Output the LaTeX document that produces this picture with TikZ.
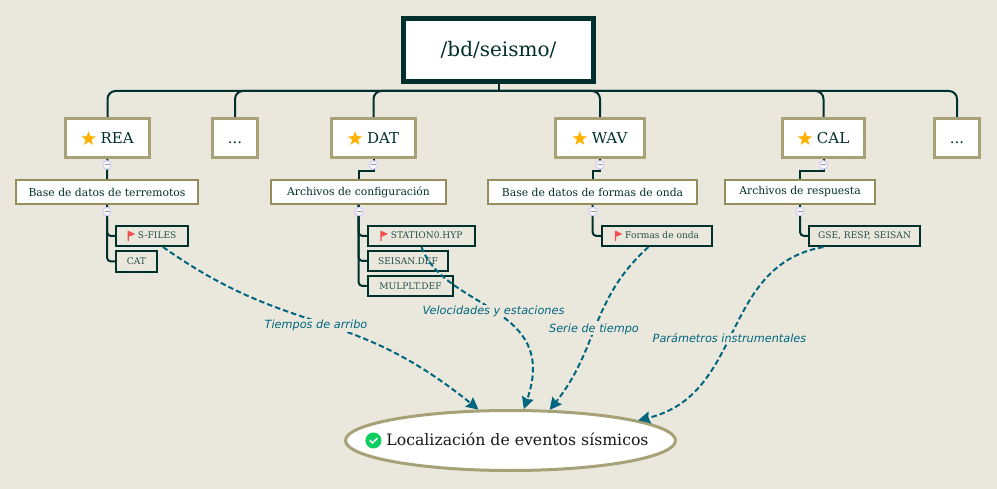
\documentclass[tikz,border=0pt]{standalone}
\usepackage{fontspec}
\setmainfont{DejaVu Serif}
\newfontfamily\flowfont{DejaVu Sans}
\usetikzlibrary{arrows.meta}
\definecolor{paper}{HTML}{EAE8DC}
\definecolor{deepgreen}{HTML}{00302E}
\definecolor{olive}{HTML}{A6A177}
\definecolor{darkolive}{HTML}{968D5C}
\definecolor{flowblue}{HTML}{006680}
\definecolor{starcolor}{HTML}{FFB300}
\definecolor{flagcolor}{HTML}{F2504F}
\definecolor{checkcolor}{HTML}{0ACF5F}
\newcommand{\staricon}{\tikz[x=1pt,y=1pt,baseline=-4.6pt]\fill[starcolor]
  (0,7.5) -- (1.9,2.5) -- (7.2,2.3) -- (3,-1) -- (4.4,-6.1) -- (0,-3.2)
  -- (-4.4,-6.1) -- (-3,-1) -- (-7.2,2.3) -- (-1.9,2.5) -- cycle;}
\newcommand{\flagicon}{\tikz[x=1pt,y=1pt,baseline=-3pt]\fill[flagcolor]
  (0,-5) rectangle (1.2,5) (1.2,5) -- (7.5,2) -- (1.2,-0.8) -- cycle;}
\newcommand{\checkicon}{\tikz[x=1pt,y=1pt,baseline=-5pt]{\fill[checkcolor] (0,0) circle (8pt);
  \draw[white,line width=1.5pt,line cap=round] (-3.4,0) -- (-1,-2.4) -- (3.6,2);}}
\tikzset{
  rootbox/.style={draw=deepgreen,fill=white,line width=5pt,text=deepgreen,inner sep=0pt,font=\fontsize{20}{24}\selectfont},
  folderbox/.style={draw=olive,fill=white,line width=3pt,text=deepgreen,inner sep=0pt,font=\fontsize{15}{18}\selectfont},
  basebox/.style={draw=darkolive,fill=white,line width=2pt,text=deepgreen,inner sep=0pt,font=\fontsize{10.8}{13}\selectfont},
  filebox/.style={draw=deepgreen,line width=2pt,text=deepgreen!85!white,inner sep=0pt,font=\fontsize{9.1}{11}\selectfont},
  resultbox/.style={ellipse,draw=olive,fill=white,line width=3pt,text=black!90,inner sep=0pt,font=\fontsize{15.7}{19}\selectfont},
  togglemark/.style={circle,draw=blue!20!white,fill=white!75!paper,line width=1pt,inner sep=0pt,minimum size=8.5pt,
    path picture={\draw[black!40,line width=1pt] (-2.5pt,0pt) -- (2.5pt,0pt);}},
  treeline/.style={draw=deepgreen,line width=2pt},
  flowline/.style={draw=flowblue,line width=2pt,dash pattern=on 5.5pt off 3pt,-{Stealth[length=12pt,width=12pt,inset=1.5pt]}},
  flowlabel/.style={fill=paper,inner sep=1pt,text=flowblue,font=\flowfont\itshape\fontsize{11.3}{13}\selectfont},
}
\usetikzlibrary{shapes.geometric}
\begin{document}
\begin{tikzpicture}[x=1pt,y=-1pt]
  \useasboundingbox[fill=paper] (0,0) rectangle (997,489);
  \draw
    (498.5,50) node[rootbox,minimum width=190pt,minimum height=63pt] (seismo){/bd/seismo/}
    (107.5,138) node[folderbox,minimum width=84pt,minimum height=39pt] (rea){\staricon\ REA}
    (235,138) node[folderbox,minimum width=45pt,minimum height=39pt] (dotsa){\vphantom{REA}...}
    (373.5,138) node[folderbox,minimum width=84pt,minimum height=39pt] (dat){\staricon\ DAT}
    (600,138) node[folderbox,minimum width=89pt,minimum height=39pt] (wav){\staricon\ WAV}
    (823.5,138) node[folderbox,minimum width=82pt,minimum height=39pt] (cal){\staricon\ CAL}
    (957,138) node[folderbox,minimum width=45pt,minimum height=39pt] (dotsb){\vphantom{REA}...}
    (107,192) node[basebox,minimum width=182pt,minimum height=24pt] (terremotos){Base de datos de terremotos}
    (358.5,192) node[basebox,minimum width=175pt,minimum height=24pt] (config){Archivos de configuración}
    (592.5,192) node[basebox,minimum width=209pt,minimum height=24pt] (formas){Base de datos de formas de onda}
    (800,192) node[basebox,minimum width=150pt,minimum height=24pt] (respuesta){Archivos de respuesta}
    (152,236) node[filebox,minimum width=72pt,minimum height=20pt] (sfiles){\flagicon\ S-FILES}
    (136.5,261.5) node[filebox,minimum width=41pt,minimum height=21pt] (cat){CAT}
    (421.5,236) node[filebox,minimum width=107pt,minimum height=20pt] (station){\flagicon\ STATION0.HYP}
    (408,261) node[filebox,minimum width=80pt,minimum height=20pt] (seisan){SEISAN.DEF}
    (410.5,286) node[filebox,minimum width=85pt,minimum height=20pt] (mulplt){MULPLT.DEF}
    (657,236) node[filebox,minimum width=110pt,minimum height=20pt] (onda){\flagicon\ Formas de onda}
    (864.5,236) node[filebox,minimum width=111pt,minimum height=20pt] (gse){GSE, RESP, SEISAN}
    (510.5,440.5) node[resultbox,minimum width=330pt,minimum height=60pt] (sismos){\makebox[0pt]{\hspace*{-7pt}\checkicon\ Localización de eventos sísmicos}};
  \coordinate (bus) at (498.5,91);
  \begin{scope}[treeline]
    \draw (seismo) to (bus);
    \draw[rounded corners=8pt] (bus) -| (rea);
    \draw[rounded corners=8pt] (bus) -| (dotsa);
    \draw[rounded corners=8pt] (bus) -| (dat);
    \draw[rounded corners=8pt] (bus) -| (wav);
    \draw[rounded corners=8pt] (bus) -| (cal);
    \draw[rounded corners=8pt] (bus) -| (dotsb);
    \draw (rea) to (terremotos);
    \draw (dat.south) -- ++(0,12) -| (config.north);
    \draw (wav.south) -- ++(0,12) -| (formas.north);
    \draw (cal.south) -- ++(0,12) -| (respuesta.north);
    \draw[rounded corners=4pt] (terremotos.south) |- (sfiles.west);
    \draw[rounded corners=4pt] (terremotos.south) |- (cat.west);
    \draw[rounded corners=4pt] (config.south) |- (station.west);
    \draw[rounded corners=4pt] (config.south) |- (seisan.west);
    \draw[rounded corners=4pt] (config.south) |- (mulplt.west);
    \draw[rounded corners=4pt] (formas.south) |- (onda.west);
    \draw[rounded corners=4pt] (respuesta.south) |- (gse.west);
  \end{scope}
  \draw
    (107,165) node[togglemark] (togglerea){}
    (373.5,165) node[togglemark] (toggledat){}
    (600,165) node[togglemark] (togglewav){}
    (823.5,165) node[togglemark] (togglecal){}
    (107,211.5) node[togglemark] (toggleterremotos){}
    (359,211.5) node[togglemark] (toggleconfig){}
    (593,211.5) node[togglemark] (toggleformas){}
    (800,211.5) node[togglemark] (togglerespuesta){};
  % dashed links to the result
  \draw[flowline] (sfiles.-45) .. controls (293,339) and (348,304) .. (sismos.136.4);
  \draw[flowline] (station.south) .. controls (445,310) and (560,305) .. (sismos.67);
  \draw[flowline] (onda.-128) .. controls (590,300) and (599,348) .. (sismos.38.5);
  \draw[flowline] (gse.-165) .. controls (720,265) and (745,395) .. (sismos.9.2);
  \draw
    (316,325.5) node[flowlabel] (tiempos){Tiempos de arribo}
    (493.5,311) node[flowlabel] (velocidades){Velocidades y estaciones}
    (594,329) node[flowlabel] (serie){Serie de tiempo}
    (729.5,338.5) node[flowlabel] (parametros){Parámetros instrumentales};
\end{tikzpicture}
\end{document}
